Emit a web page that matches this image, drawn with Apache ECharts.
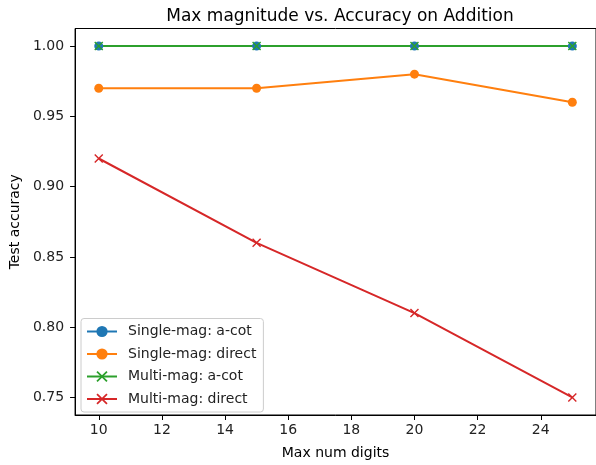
<!DOCTYPE html>
<html><head><meta charset="utf-8">
<script src="https://cdn.jsdelivr.net/npm/echarts@6/dist/echarts.min.js"></script>
<style>html,body{margin:0;padding:0;background:#fff}#c{width:596px;height:465px}</style>
</head><body><div id="c"></div>
<script>
const digits = [10, 15, 20, 25];
const singleACot = [1.00, 1.00, 1.00, 1.00];
const singleDirect = [0.97, 0.97, 0.98, 0.96];
const multiACot = [1.00, 1.00, 1.00, 1.00];
const multiDirect = [0.92, 0.86, 0.81, 0.75];
const xTicks = [10, 12, 14, 16, 18, 20, 22, 24];
const yTicks = [0.75, 0.80, 0.85, 0.90, 0.95, 1.00];
const seriesNames = ['Single-mag: a-cot', 'Single-mag: direct', 'Multi-mag: a-cot', 'Multi-mag: direct'];

const X_SYM = 'path://M0,1.1 L1.1,0 L5,3.9 L8.9,0 L10,1.1 L6.1,5 L10,8.9 L8.9,10 L5,6.1 L1.1,10 L0,8.9 L3.9,5 Z';
const font = 'DejaVu Sans';
function mk(name, vals, color, sym) {
  return {
    name, type: 'line', data: digits.map((d, i) => [d, vals[i]]),
    symbol: sym === 'o' ? 'circle' : X_SYM,
    symbolSize: sym === 'o' ? 9 : 9,
    showSymbol: true,
    lineStyle: { color, width: 2 },
    itemStyle: { color, borderWidth: 0 },
    emphasis: { disabled: true },
    animation: false
  };
}
const chart = echarts.init(document.getElementById('c'), null, { renderer: 'canvas' });
chart.setOption({
  animation: false,
  textStyle: { fontFamily: font },
  title: {
    text: 'Max magnitude vs. Accuracy on Addition',
    left: 335, top: 3, textAlign: 'center',
    textStyle: { fontFamily: font, fontSize: 17, fontWeight: 'normal', color: '#000' }
  },
  grid: { left: 73, top: 28.5, width: 524, height: 390.5, show: true, borderColor: '#000', borderWidth: 1, backgroundColor: 'transparent' },
  legend: {
    left: 81, top: 318.5, orient: 'vertical',
    data: seriesNames,
    itemWidth: 30, itemHeight: 14, itemGap: 8.5,
    textStyle: { fontFamily: font, fontSize: 14, color: '#222', padding: [0, 0, 0, 6] },
    backgroundColor: 'rgba(255,255,255,0.8)', borderColor: '#ccc', borderWidth: 1, borderRadius: 3,
    padding: [6, 7, 6, 5]
  },
  xAxis: {
    type: 'value', min: 9.25, max: 25.75,
    name: 'Max num digits', nameLocation: 'middle', nameGap: 31,
    nameTextStyle: { fontFamily: font, fontSize: 14, color: '#000' },
    axisLine: { show: true, lineStyle: { color: '#000', width: 1 } },
    axisTick: { show: true, length: 5, lineStyle: { color: '#000' }, customValues: xTicks },
    axisLabel: { customValues: xTicks, fontFamily: font, fontSize: 14, color: '#222', margin: 8 },
    splitLine: { show: false }
  },
  yAxis: {
    type: 'value', min: 0.7375, max: 1.0125,
    name: 'Test accuracy', nameLocation: 'middle', nameGap: 50, nameRotate: 90,
    nameTextStyle: { fontFamily: font, fontSize: 14, color: '#000' },
    axisLine: { show: true, lineStyle: { color: '#000', width: 1 } },
    axisTick: { show: true, length: 5, lineStyle: { color: '#000' }, customValues: yTicks },
    axisLabel: { customValues: yTicks, fontFamily: font, fontSize: 14, color: '#222', margin: 11, formatter: v => v.toFixed(2) },
    splitLine: { show: false }
  },
  series: [
    mk(seriesNames[0], singleACot, '#1f77b4', 'o'),
    mk(seriesNames[1], singleDirect, '#ff7f0e', 'o'),
    mk(seriesNames[2], multiACot, '#2ca02c', 'x'),
    mk(seriesNames[3], multiDirect, '#d62728', 'x')
  ]
});
</script></body></html>
